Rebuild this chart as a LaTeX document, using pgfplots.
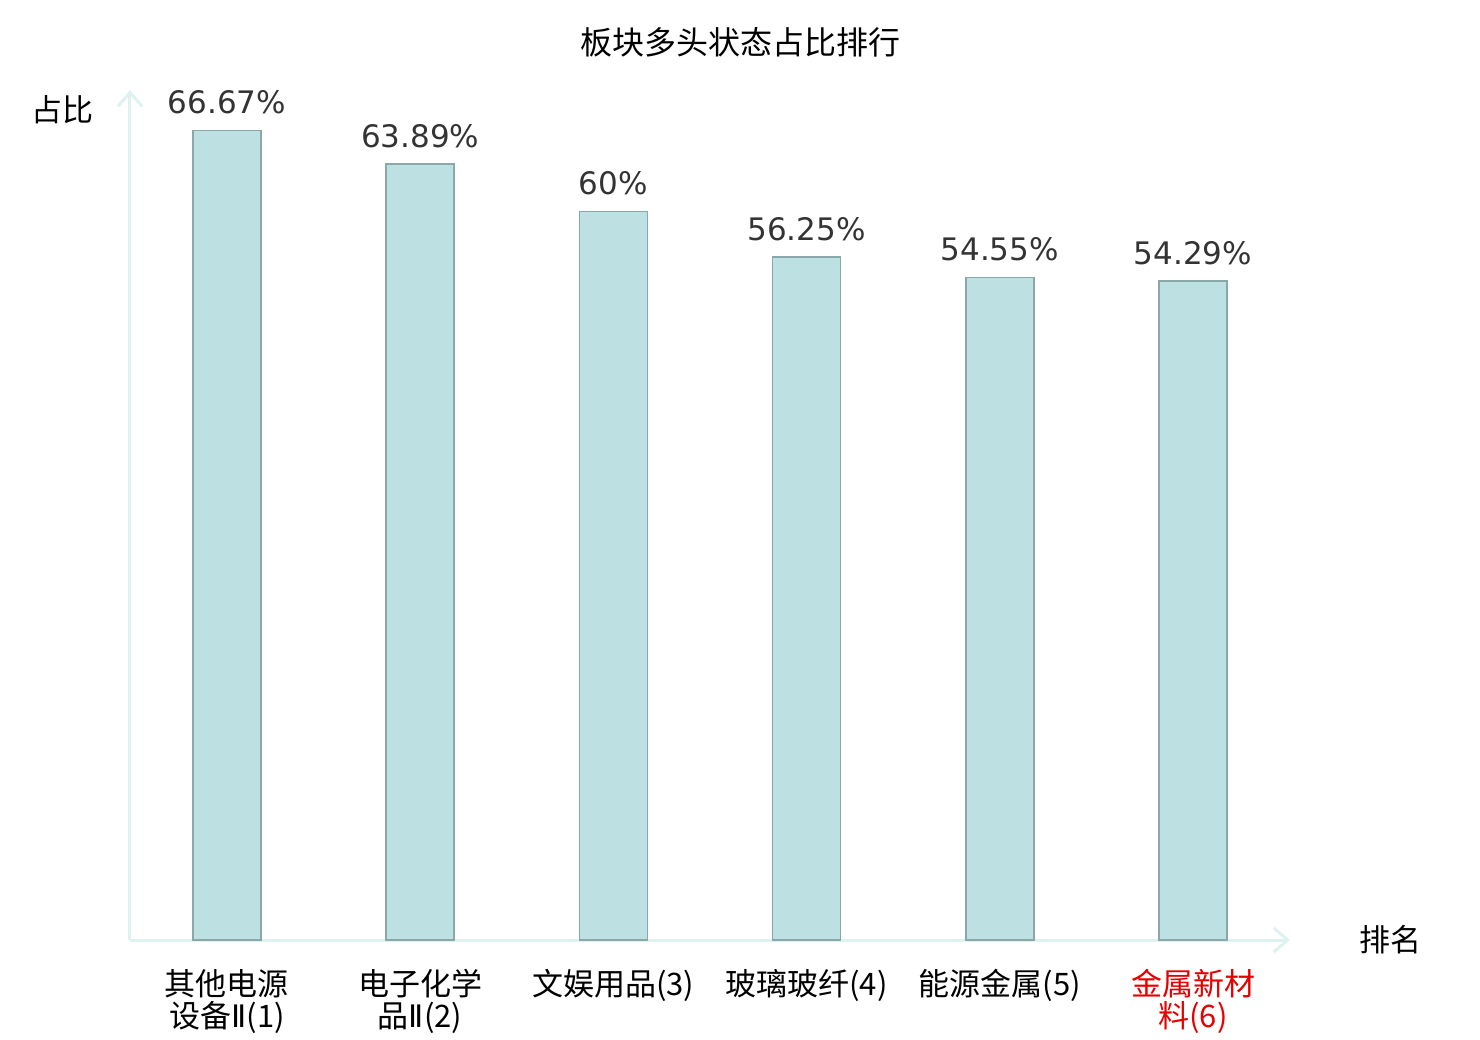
\documentclass[border=0pt]{standalone}
\usepackage{pgfplots}
\pgfplotsset{compat=1.18}
\usetikzlibrary{arrows.meta}
\usepackage{fontspec}
\setmainfont{Noto Sans CJK SC}
\newfontfamily\dejavu{DejaVu Sans}
\definecolor{barfill}{RGB}{189,224,227}
\definecolor{baredge}{RGB}{138,168,170}
\definecolor{axcol}{RGB}{222,242,240}
\definecolor{valcol}{RGB}{51,51,51}
\definecolor{hlred}{RGB}{230,0,0}
\newcommand{\rII}{{\dejavu Ⅱ}}
\begin{document}
\begin{tikzpicture}
\path[use as bounding box] (-65pt,-50pt) rectangle (675pt,470pt);
\begin{axis}[
  at={(0,0)}, anchor=south west,
  scale only axis, width=580pt, height=425pt,
  xmin=-0.502, xmax=5.502, ymin=0, ymax=70,
  axis lines=left,
  axis line style={draw=axcol, line width=1.5pt, -{Straight Barb[length=7pt,width=12pt,line width=1.5pt]}},
  ytick=\empty,
  xtick={0,1,2,3,4,5},
  major tick length=0pt,
  xticklabels={{其他电源\\设备\rII(1)},{电子化学\\品\rII(2)},{文娱用品(3)},{玻璃玻纤(4)},{能源金属(5)},{\textcolor{hlred}{金属新材}\\\textcolor{hlred}{料(6)}}},
  xticklabel style={anchor=north, align=center, inner sep=0pt, yshift=-14.5pt, font=\fontsize{15.5}{16}\selectfont, text=black},
  title={板块多头状态占比排行},
  title style={at={(axis description cs:0.526,1.0424)}, anchor=center, font=\fontsize{16}{18}\selectfont},
  xlabel={排名},
  xlabel style={at={(axis description cs:1.087,0)}, anchor=center, font=\fontsize{15.5}{18}\selectfont},
  ylabel={占比},
  ylabel style={at={(axis description cs:-0.0578,0.9765)}, anchor=center, rotate=-90, font=\fontsize{15.5}{18}\selectfont},
  clip=false,
]
\addplot[ybar, bar width=34pt, fill=barfill, draw=baredge, line width=0.8pt,
  point meta=explicit symbolic,
  nodes near coords,
  nodes near coords style={anchor=center, yshift=14pt, font=\dejavu\fontsize{15.5}{18}\selectfont, text=valcol}]
  coordinates {
  (0,66.67) [66.67\%]
  (1,63.89) [63.89\%]
  (2,60) [60\%]
  (3,56.25) [56.25\%]
  (4,54.55) [54.55\%]
  (5,54.29) [54.29\%]
};
\end{axis}
\end{tikzpicture}
\end{document}
